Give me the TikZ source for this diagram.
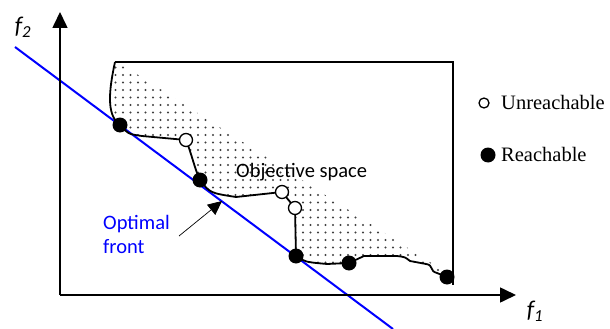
\documentclass[tikz,border=0pt]{standalone}
\usepackage{fontspec}
\setmainfont{Carlito}
\newfontfamily\legendfont{Liberation Serif}
\usetikzlibrary{arrows.meta, backgrounds}

% the front of reachable points, from the top of the box to the last point
\newcommand{\spacecurve}{(115,62) .. controls (109,90) and (106,115) .. (r1.center)
  .. controls (128,134) .. (142,136) -- (u1.center)
  .. controls (192,155) and (195,170) .. (r2.center)
  .. controls (210,193) .. (236,197) -- (u2.center)
  -- (u3.center) -- (r3.center)
  .. controls (305,262) .. (327,264) -- (r4.center)
  .. controls (356,259) .. (364,256) -- (397,256)
  .. controls (405,257) .. (410,261) -- (426,264)
  .. controls (434,265) and (429,271) .. (437,273) -- (r5.center)}

\begin{document}
\begin{tikzpicture}[x=1pt, y=-1pt,
    reach/.style={circle, fill=black, minimum size=15pt, inner sep=0pt},
    unreach/.style={circle, draw=black, fill=white, line width=1.3pt, minimum size=13pt, inner sep=0pt},
    axis/.style={line width=1.6pt, -{Triangle[length=16pt,width=15pt]}},
    front/.style={line width=1.8pt, line join=round},
    dotc/.style={fill=black!75},
    big/.style={font=\fontsize{20.5}{24}\selectfont, inner sep=0pt}
]
\useasboundingbox (0,0) rectangle (610,329);

% points on the front
\node[reach]   (r1) at (120,125) {};
\node[unreach] (u1) at (186,140) {};
\node[reach]   (r2) at (200,180) {};
\node[unreach] (u2) at (282,192) {};
\node[unreach] (u3) at (295,208) {};
\node[reach]   (r3) at (296,256) {};
\node[reach]   (r4) at (349,263) {};
\node[reach]   (r5) at (447,277) {};

\begin{scope}[on background layer]
  % dotted part of the objective space
  \begin{scope}
    \clip \spacecurve -- (436,266) -- (118,62) -- cycle;
    \foreach \i in {0,...,45}
      \foreach \j in {0,...,29}
        \fill[dotc] (108+7.5*\i, 60+7.5*\j) circle (1.1);
  \end{scope}
  % optimal front
  \coordinate (b1) at (15,47);
  \coordinate (b2) at (393,329);
  \draw[blue, line width=2pt] (b1) -- (b2);
  \draw[front] \spacecurve;
  % box
  \draw[line width=1.5pt] (115,62) -- (453,62) -- (453,285);
  % axes
  \coordinate (o) at (60,295);
  \coordinate (ytip) at (60,12);
  \coordinate (xtip) at (516,295);
  \draw[axis] (o) -- (ytip);
  \draw[axis] (o) -- (xtip);
\end{scope}

\node[font=\fontsize{24}{28}\selectfont\itshape] (f2) at (23,27) {f\textsubscript{2}};
\node[font=\fontsize{24}{28}\selectfont\itshape] (f1) at (535,311) {f\textsubscript{1}};

\node[big, anchor=base west] (obj) at (236,177) {Objective space};
\node[big, anchor=north west, align=left, text=blue] (opt) at (103,215) {Optimal\\front};
\coordinate (tail) at (179,236);
\coordinate (tip) at (222,201);
\draw[-{Triangle[length=14pt,width=13pt]}, line width=0.7pt] (tail) -- (tip);

% legend
\node[unreach, minimum size=10pt, line width=1.3pt] (lu) at (484,103) {};
\node[big, anchor=base west, font=\legendfont\fontsize{20.5}{24}\selectfont] (lut) at (501,109) {Unreachable};
\node[reach, minimum size=15pt] (lr) at (488,155) {};
\node[big, anchor=base west, font=\legendfont\fontsize{20.5}{24}\selectfont] (lrt) at (501,161) {Reachable};
\end{tikzpicture}
\end{document}
